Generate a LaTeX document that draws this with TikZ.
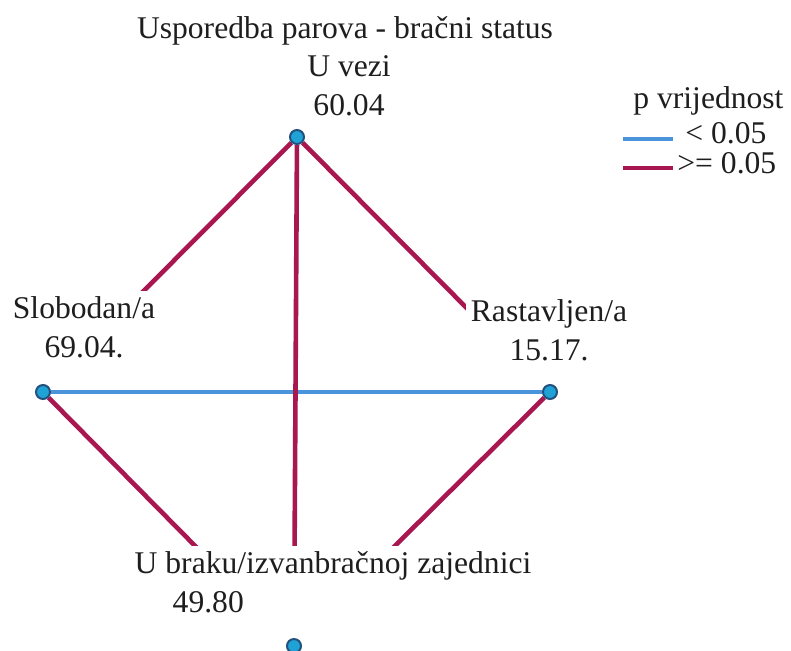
\documentclass[tikz,border=0pt]{standalone}
\usepackage{fontspec}
\setmainfont{Liberation Serif}
\usepackage{tikz}
\usetikzlibrary{positioning,backgrounds}
\definecolor{ink}{HTML}{1E1E1E}
\definecolor{sigc}{HTML}{4A94DC}
\definecolor{nsigc}{HTML}{A8174F}
\definecolor{dotfill}{HTML}{1FA2D6}
\definecolor{dotdraw}{HTML}{24507E}
\tikzset{
  dot/.style={circle,fill=dotfill,draw=dotdraw,line width=1pt,minimum size=7pt,inner sep=0pt},
  lbl/.style={fill=white,text=ink,align=center,inner sep=2.5pt,anchor=base,
    font=\fontsize{15.8}{19.5}\selectfont},
  key/.style={lbl,fill=none,anchor=base west,inner sep=0pt},
  sig/.style={line width=2.3pt,color=sigc},
  nsig/.style={line width=2.3pt,color=nsigc}
}
\begin{document}
\begin{tikzpicture}[x=0.5pt,y=-0.5pt]
  \useasboundingbox (0,0) rectangle (791,650);
  \node[dot] (vezi) at (297,137) {};
  \node[dot] (slob) at (43,392) {};
  \node[dot] (rast) at (550,392) {};
  \node[dot] (brak) at (294,646) {};
  \begin{scope}[on background layer]
    \draw[sig] (slob) -- (rast);
    \draw[nsig] (vezi) -- (slob);
    \draw[nsig] (vezi) -- (rast);
    \draw[nsig] (vezi) -- (brak);
    \draw[nsig] (slob) -- (brak);
    \draw[nsig] (rast) -- (brak);
    \node[lbl] (title) at (345,38) {Usporedba parova - bračni status};
    \node[lbl] (vezil) at (349,115) {U vezi\\60.04};
    \node[lbl] (slobl) at (84,357) {Slobodan/a\\69.04.\rule[-13pt]{0pt}{0pt}};
    \node[lbl,inner ysep=3.5pt] (rastl) at (549,360) {Rastavljen/a\\15.17.\rule[-11pt]{0pt}{0pt}};
    \node[lbl,align=left] (brakl) at (333,612)
      {U braku/izvanbračnoj zajednici\\\hspace*{19pt}49.80\rule[-12.5pt]{0pt}{0pt}};
  \end{scope}
  % legenda
  \node[key] (pval) at (633,108) {p vrijednost};
  \node[key] (klo) at (685,143) {< 0.05};
  \node[key] (khi) at (677,173) {>= 0.05};
  \coordinate (klo1) at (623,139);
  \coordinate (klo2) at (673,139);
  \coordinate (khi1) at (623,168);
  \coordinate (khi2) at (673,168);
  \draw[sig] (klo1) -- (klo2);
  \draw[nsig] (khi1) -- (khi2);
\end{tikzpicture}
\end{document}
